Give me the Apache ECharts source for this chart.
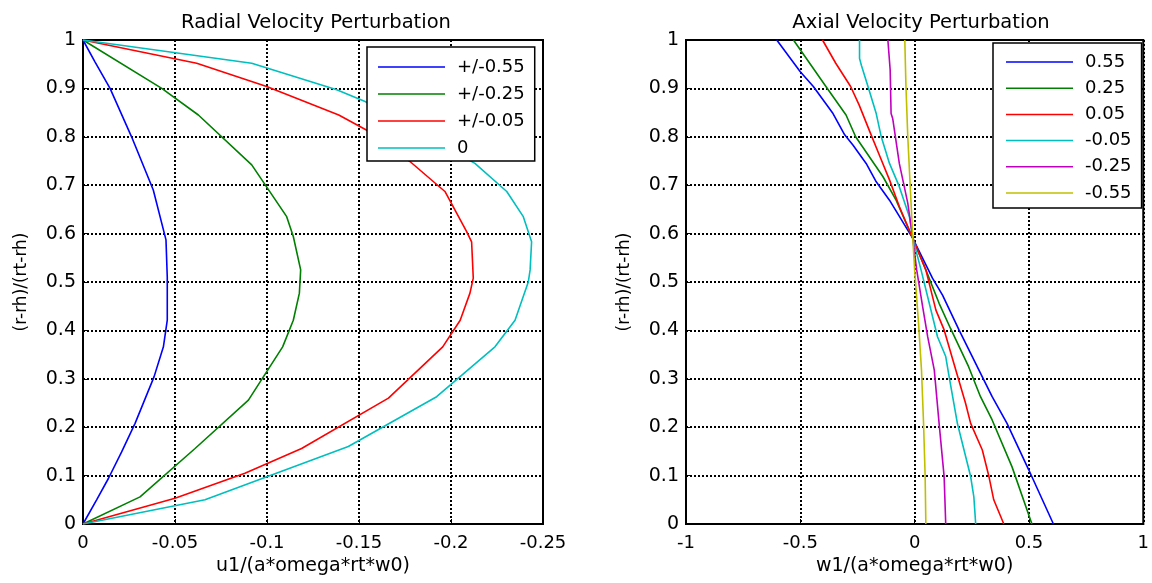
<!DOCTYPE html>
<html>
<head>
<meta charset="utf-8">
<script src="https://cdn.jsdelivr.net/npm/echarts@6/dist/echarts.min.js"></script>
<style>
html,body{margin:0;padding:0;background:#fff;}
#chart{width:1152px;height:583px;}
</style>
</head>
<body>
<div id="chart"></div>
<script>
// ---------- Radial velocity perturbation (left) ----------
const radialTitle = 'Radial Velocity Perturbation';
const radialXName = 'u1/(a*omega*rt*w0)';
const radialNames = ['+/-0.55', '+/-0.25', '+/-0.05', '0'];

const radY_055 = [0, 0.05, 0.094, 0.149, 0.208, 0.304, 0.366, 0.421, 0.51, 0.587, 0.69, 0.8, 0.9, 0.955, 1];
const radU_055 = [0, -0.0074, -0.0138, -0.021, -0.0283, -0.0386, -0.0437, -0.0458, -0.0458, -0.0451, -0.0382, -0.0264, -0.0147, -0.0065, 0];

const radY_025 = [0, 0.056, 0.156, 0.256, 0.366, 0.421, 0.477, 0.525, 0.594, 0.635, 0.742, 0.845, 0.9, 1];
const radU_025 = [0, -0.031, -0.0609, -0.0899, -0.1085, -0.1143, -0.1176, -0.1183, -0.1143, -0.1107, -0.0917, -0.0627, -0.0428, 0];

const radY_005 = [0, 0.053, 0.105, 0.156, 0.26, 0.366, 0.421, 0.477, 0.508, 0.583, 0.604, 0.687, 0.749, 0.814, 0.845, 0.904, 0.952, 1];
const radU_005 = [0, -0.050, -0.088, -0.1188, -0.166, -0.1955, -0.205, -0.2103, -0.2121, -0.2112, -0.2085, -0.1967, -0.1777, -0.154, -0.139, -0.0998, -0.0618, 0];

const radY_0 = [0, 0.05, 0.16, 0.263, 0.366, 0.421, 0.5, 0.525, 0.583, 0.635, 0.687, 0.745, 0.873, 0.897, 0.952, 1];
const radU_0 = [0, -0.0663, -0.1442, -0.1922, -0.2239, -0.2348, -0.242, -0.243, -0.2438, -0.2393, -0.2303, -0.213, -0.1533, -0.1379, -0.0917, 0];

// ---------- Axial velocity perturbation (right) ----------
const axialTitle = 'Axial Velocity Perturbation';
const axialXName = 'w1/(a*omega*rt*w0)';
const axialNames = ['0.55', '0.25', '0.05', '-0.05', '-0.25', '-0.55'];

const axY_055 = [0, 0.112, 0.208, 0.263, 0.304, 0.401, 0.473, 0.508, 0.59, 0.669, 0.707, 0.745, 0.783, 0.804, 0.848, 0.904, 0.935, 1];
const axW_055 = [0.607, 0.499, 0.404, 0.339, 0.296, 0.194, 0.122, 0.078, -0.008, -0.110, -0.168, -0.212, -0.27, -0.306, -0.357, -0.443, -0.501, -0.603];

const axY_025 = [0, 0.118, 0.215, 0.263, 0.325, 0.404, 0.456, 0.525, 0.59, 0.669, 0.718, 0.80, 0.845, 0.904, 1];
const axW_025 = [0.513, 0.426, 0.339, 0.288, 0.236, 0.157, 0.107, 0.049, -0.008, -0.081, -0.139, -0.258, -0.30, -0.388, -0.530];

const axY_005 = [0, 0.05, 0.098, 0.153, 0.208, 0.249, 0.318, 0.401, 0.442, 0.525, 0.59, 0.656, 0.711, 0.762, 0.807, 0.866, 0.904, 0.952, 1];
const axW_005 = [0.39, 0.346, 0.325, 0.296, 0.245, 0.223, 0.180, 0.129, 0.093, 0.049, -0.008, -0.067, -0.110, -0.154, -0.193, -0.243, -0.28, -0.345, -0.403];

const axY_m005 = [0, 0.056, 0.098, 0.153, 0.208, 0.304, 0.346, 0.387, 0.456, 0.525, 0.59, 0.635, 0.697, 0.745, 0.80, 0.848, 0.904, 0.948, 0.962, 1];
const axW_m005 = [0.267, 0.259, 0.245, 0.216, 0.187, 0.151, 0.136, 0.1, 0.064, 0.028, -0.008, -0.023, -0.067, -0.11, -0.146, -0.168, -0.204, -0.233, -0.241, -0.241];

const axY_m025 = [0, 0.098, 0.208, 0.318, 0.387, 0.449, 0.525, 0.59, 0.663, 0.745, 0.838, 0.848, 0.938, 1];
const axW_m025 = [0.136, 0.129, 0.107, 0.086, 0.057, 0.035, 0.009, -0.008, -0.030, -0.067, -0.096, -0.103, -0.107, -0.117];

const axY_m055 = [0, 0.098, 0.208, 0.318, 0.415, 0.525, 0.59, 0.704, 0.80, 0.904, 1];
const axW_m055 = [0.049, 0.046, 0.039, 0.030, 0.017, 0, -0.008, -0.020, -0.030, -0.038, -0.043];

const yName = '(r-rh)/(rt-rh)';

// ---------- build ----------
const FONT = 'DejaVu Sans';
const colorsLeft = ['#0000FF', '#008000', '#FF0000', '#00BFBF'];
const colorsRight = ['#0000FF', '#008000', '#FF0000', '#00BFBF', '#BF00BF', '#BFBF00'];

function pairs(xs, ys) { return xs.map((x, i) => [x, ys[i]]); }

const leftData = [pairs(radU_055, radY_055), pairs(radU_025, radY_025), pairs(radU_005, radY_005), pairs(radU_0, radY_0)];
const rightData = [pairs(axW_055, axY_055), pairs(axW_025, axY_025), pairs(axW_005, axY_005), pairs(axW_m005, axY_m005), pairs(axW_m025, axY_m025), pairs(axW_m055, axY_m055)];

function fmt(v) { const r = Math.round(v * 1000) / 1000; return String(r === 0 ? 0 : r); }

const splitLine = { show: true, lineStyle: { color: '#000', type: [2, 2], width: 2 } };
const axisLine = { show: true, onZero: false, lineStyle: { color: '#000', width: 2 } };
const axisTick = { show: true, inside: true, length: 5, lineStyle: { color: '#000', width: 1 } };

function xAxis(gi, min, max, interval, inverse, name) {
  return {
    type: 'value', gridIndex: gi, min: min, max: max, interval: interval, inverse: inverse,
    name: name, nameLocation: 'middle', nameGap: 33,
    nameTextStyle: { color: '#000', fontSize: 19, fontFamily: FONT },
    axisLine: axisLine, axisTick: axisTick, splitLine: splitLine,
    axisLabel: { color: '#000', fontSize: 18, fontFamily: FONT, margin: 10, formatter: fmt, showMinLabel: true, showMaxLabel: true }
  };
}
function yAxis(gi) {
  return {
    type: 'value', gridIndex: gi, min: 0, max: 1, interval: 0.1,
    name: yName, nameLocation: 'middle', nameGap: 53, nameRotate: 90,
    nameTextStyle: { color: '#000', fontSize: 17, fontFamily: FONT },
    axisLine: axisLine, axisTick: axisTick, splitLine: splitLine,
    axisLabel: { color: '#000', fontSize: 19, fontFamily: FONT, margin: 7, formatter: fmt, showMinLabel: true, showMaxLabel: true }
  };
}

const series = [];
radialNames.forEach((n, i) => series.push({
  name: n, type: 'line', xAxisIndex: 0, yAxisIndex: 0, data: leftData[i],
  symbol: 'none', lineStyle: { width: 1.6, color: colorsLeft[i] }, itemStyle: { color: colorsLeft[i] }, z: 3
}));
axialNames.forEach((n, i) => series.push({
  name: n, type: 'line', xAxisIndex: 1, yAxisIndex: 1, data: rightData[i],
  symbol: 'none', lineStyle: { width: 1.6, color: colorsRight[i] }, itemStyle: { color: colorsRight[i] }, z: 3
}));

const legendBase = {
  orient: 'vertical', icon: 'rect', itemWidth: 67, itemHeight: 1.5,
  backgroundColor: '#fff', borderColor: '#000', borderWidth: 1.5, borderRadius: 0,
  textStyle: { color: '#000', fontSize: 18, fontFamily: FONT, padding: [0, 0, 0, 7], lineHeight: 18 },
  z: 10
};

const option = {
  backgroundColor: '#fff',
  animation: false,
  title: [
    { text: radialTitle, left: 311, top: 8, textAlign: 'center', textStyle: { color: '#000', fontSize: 19.5, fontWeight: 'normal', fontFamily: FONT } },
    { text: axialTitle, left: 916, top: 8, textAlign: 'center', textStyle: { color: '#000', fontSize: 19.5, fontWeight: 'normal', fontFamily: FONT } }
  ],
  legend: [
    Object.assign({}, legendBase, { data: radialNames, left: 367, top: 47, itemGap: 9, padding: [11, 10, 4, 11] }),
    Object.assign({}, legendBase, { data: axialNames, left: 993, top: 43, itemGap: 8.2, padding: [10, 10, 6, 13] })
  ],
  grid: [
    { left: 83, top: 40, width: 460, height: 484, show: true, borderColor: '#000', borderWidth: 2, backgroundColor: '#fff' },
    { left: 686, top: 40, width: 460, height: 484, show: true, borderColor: '#000', borderWidth: 2, backgroundColor: '#fff' }
  ],
  xAxis: [
    xAxis(0, -0.25, 0, 0.05, true, radialXName),
    xAxis(1, -1, 1, 0.5, false, axialXName)
  ],
  yAxis: [yAxis(0), yAxis(1)],
  series: series
};

const chart = echarts.init(document.getElementById('chart'), null, { renderer: 'canvas' });
chart.setOption(option);
</script>
</body>
</html>
